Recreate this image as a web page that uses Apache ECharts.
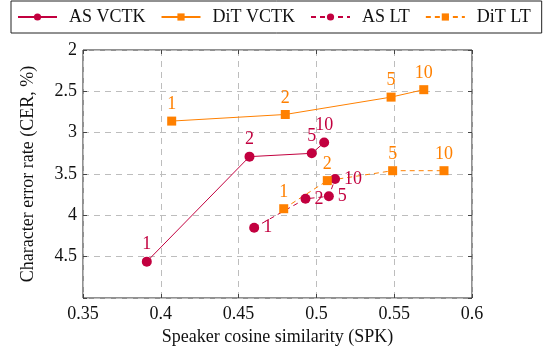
<!DOCTYPE html>
<html>
<head>
<meta charset="utf-8">
<script src="https://cdn.jsdelivr.net/npm/echarts@6/dist/echarts.min.js"></script>
<style>html,body{margin:0;padding:0;background:#fff;}#c{width:546px;height:351px;}</style>
</head>
<body>
<div id="c"></div>
<script>
var pointLabels = ['1', '2', '5', '10'];
var asVctkSpk = [0.391, 0.457, 0.497, 0.505];
var asVctkCer = [4.56, 3.29, 3.25, 3.12];
var ditVctkSpk = [0.407, 0.480, 0.548, 0.569];
var ditVctkCer = [2.86, 2.78, 2.57, 2.48];
var asLtSpk = [0.460, 0.493, 0.508, 0.512];
var asLtCer = [4.15, 3.80, 3.77, 3.56];
var ditLtSpk = [0.479, 0.507, 0.549, 0.582];
var ditLtCer = [3.92, 3.58, 3.46, 3.46];
var xTicks = [0.35, 0.4, 0.45, 0.5, 0.55, 0.6];
var yTicks = [2, 2.5, 3, 3.5, 4, 4.5];

var AS = '#c2003f', DIT = '#ff8000';
var FONT = 'Liberation Serif';

function pts(xs, ys) { return xs.map(function (x, i) { return [x, ys[i]]; }); }
function mk(name, xs, ys, color, symbol, dashed, labelPos) {
  return {
    name: name, type: 'line', data: pts(xs, ys),
    symbol: symbol, symbolSize: symbol === 'rect' ? 9 : 10,
    itemStyle: { color: color },
    lineStyle: { color: color, width: 1, type: dashed ? [5, 4] : 'solid' },
    label: {
      show: true, position: labelPos, distance: labelPos === 'right' ? 4 : 3,
      color: color, fontFamily: FONT, fontSize: 18,
      formatter: function (p) { return pointLabels[p.dataIndex]; }
    },
    z: 3
  };
}

var chart = echarts.init(document.getElementById('c'), null, { renderer: 'canvas' });
chart.setOption({
  animation: false,
  textStyle: { fontFamily: FONT },
  grid: { left: 83, right: 74, top: 50, bottom: 53, show: true, borderColor: '#222', borderWidth: 1, backgroundColor: 'transparent' },
  legend: {
    left: 11, top: 1, orient: 'horizontal',
    padding: [7, 11, 7, 6],
    borderColor: '#222', borderWidth: 1,
    itemWidth: 39, itemHeight: 9, itemGap: 15,
    textStyle: { fontFamily: FONT, fontSize: 18, color: '#111', padding: [0, 0, 0, 7] },
    data: ['AS VCTK', 'DiT VCTK', 'AS LT', 'DiT LT']
  },
  xAxis: [{
    type: 'value', min: 0.35, max: 0.6, interval: 0.05,
    name: 'Speaker cosine similarity (SPK)', nameLocation: 'middle', nameGap: 28,
    nameTextStyle: { fontFamily: FONT, fontSize: 18, color: '#111' },
    axisLine: { show: false },
    axisTick: { show: true, inside: true, length: 4, lineStyle: { color: '#444' } },
    axisLabel: { fontFamily: FONT, fontSize: 18, color: '#111', margin: 7,
      formatter: function (v) { var s = xTicks.filter(function (t) { return Math.abs(t - v) < 1e-6; }); return s.length ? String(s[0]) : ''; } },
    splitLine: { show: true, lineStyle: { color: '#bdbdbd', type: [6, 5], width: 1 } }
  }, {
    type: 'value', position: 'top', min: 0.35, max: 0.6, interval: 0.05,
    axisLine: { show: false }, axisLabel: { show: false }, splitLine: { show: false },
    axisTick: { show: true, inside: true, length: 4, lineStyle: { color: '#444' } }
  }],
  yAxis: [{
    type: 'value', inverse: true, min: 2, max: 5, interval: 0.5,
    name: 'Character error rate (CER, %)', nameLocation: 'middle', nameGap: 46,
    nameTextStyle: { fontFamily: FONT, fontSize: 18, color: '#111' },
    axisLine: { show: false },
    axisTick: { show: true, inside: true, length: 4, lineStyle: { color: '#444' } },
    axisLabel: { fontFamily: FONT, fontSize: 18, color: '#111', margin: 6,
      formatter: function (v) { var s = yTicks.filter(function (t) { return Math.abs(t - v) < 1e-6; }); return s.length ? String(s[0]) : ''; } },
    splitLine: { show: true, lineStyle: { color: '#bdbdbd', type: [6, 5], width: 1 } }
  }, {
    type: 'value', position: 'right', inverse: true, min: 2, max: 5, interval: 0.5,
    axisLine: { show: false }, axisLabel: { show: false }, splitLine: { show: false },
    axisTick: { show: true, inside: true, length: 4, lineStyle: { color: '#444' } }
  }],
  series: [
    mk('AS VCTK', asVctkSpk, asVctkCer, AS, 'circle', false, 'top'),
    mk('DiT VCTK', ditVctkSpk, ditVctkCer, DIT, 'rect', false, 'top'),
    mk('AS LT', asLtSpk, asLtCer, AS, 'circle', true, 'right'),
    mk('DiT LT', ditLtSpk, ditLtCer, DIT, 'rect', true, 'top')
  ]
});
</script>
</body>
</html>
